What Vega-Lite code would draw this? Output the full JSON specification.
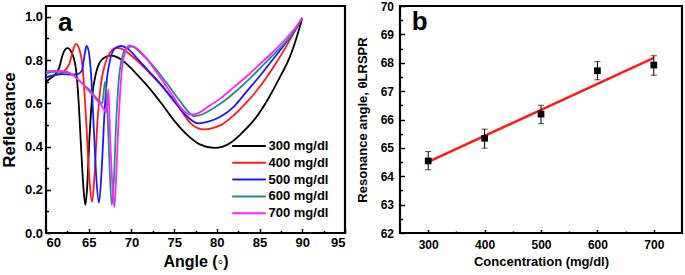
{
  "$schema": "https://vega.github.io/schema/vega-lite/v6.json",
  "background": "white",
  "padding": {"left": -1, "top": -2, "right": 0, "bottom": 0},
  "spacing": 8,
  "config": {
    "view": {"stroke": "black", "strokeWidth": 2.2},
    "font": "Liberation Sans",
    "axis": {
      "domain": false,
      "grid": false,
      "labelOverlap": false,
      "labelFont": "Liberation Sans",
      "labelFontWeight": "bold",
      "labelColor": "black",
      "titleFont": "Liberation Sans",
      "titleFontWeight": "bold",
      "titleColor": "black",
      "tickColor": "black",
      "tickWidth": 1.5,
      "labelPadding": 9
    }
  },
  "datasets": {
    "spectra": [
      {"conc": "300 mg/dl", "angle": 60, "R": 0.70},
      {"conc": "300 mg/dl", "angle": 60.5, "R": 0.715},
      {"conc": "300 mg/dl", "angle": 61, "R": 0.73},
      {"conc": "300 mg/dl", "angle": 61.5, "R": 0.76},
      {"conc": "300 mg/dl", "angle": 62, "R": 0.83},
      {"conc": "300 mg/dl", "angle": 62.5, "R": 0.855},
      {"conc": "300 mg/dl", "angle": 63, "R": 0.835},
      {"conc": "300 mg/dl", "angle": 63.5, "R": 0.76},
      {"conc": "300 mg/dl", "angle": 63.8, "R": 0.62},
      {"conc": "300 mg/dl", "angle": 64.1, "R": 0.40},
      {"conc": "300 mg/dl", "angle": 64.4, "R": 0.20},
      {"conc": "300 mg/dl", "angle": 64.6, "R": 0.13},
      {"conc": "300 mg/dl", "angle": 64.8, "R": 0.20},
      {"conc": "300 mg/dl", "angle": 65.1, "R": 0.45},
      {"conc": "300 mg/dl", "angle": 65.4, "R": 0.63},
      {"conc": "300 mg/dl", "angle": 65.8, "R": 0.73},
      {"conc": "300 mg/dl", "angle": 66.3, "R": 0.79},
      {"conc": "300 mg/dl", "angle": 67, "R": 0.815},
      {"conc": "300 mg/dl", "angle": 67.6, "R": 0.82},
      {"conc": "300 mg/dl", "angle": 68.5, "R": 0.81},
      {"conc": "300 mg/dl", "angle": 69.5, "R": 0.78},
      {"conc": "300 mg/dl", "angle": 70.5, "R": 0.74},
      {"conc": "300 mg/dl", "angle": 72, "R": 0.675},
      {"conc": "300 mg/dl", "angle": 73.5, "R": 0.60},
      {"conc": "300 mg/dl", "angle": 75, "R": 0.52},
      {"conc": "300 mg/dl", "angle": 76.5, "R": 0.455},
      {"conc": "300 mg/dl", "angle": 78, "R": 0.41},
      {"conc": "300 mg/dl", "angle": 79.7, "R": 0.394},
      {"conc": "300 mg/dl", "angle": 80.7, "R": 0.40},
      {"conc": "300 mg/dl", "angle": 81.7, "R": 0.42},
      {"conc": "300 mg/dl", "angle": 83, "R": 0.465},
      {"conc": "300 mg/dl", "angle": 84.5, "R": 0.53},
      {"conc": "300 mg/dl", "angle": 86, "R": 0.62},
      {"conc": "300 mg/dl", "angle": 87.5, "R": 0.73},
      {"conc": "300 mg/dl", "angle": 88.5, "R": 0.81},
      {"conc": "300 mg/dl", "angle": 89.3, "R": 0.90},
      {"conc": "300 mg/dl", "angle": 90, "R": 0.995},

      {"conc": "400 mg/dl", "angle": 60, "R": 0.72},
      {"conc": "400 mg/dl", "angle": 61, "R": 0.73},
      {"conc": "400 mg/dl", "angle": 62, "R": 0.745},
      {"conc": "400 mg/dl", "angle": 62.7, "R": 0.78},
      {"conc": "400 mg/dl", "angle": 63.2, "R": 0.85},
      {"conc": "400 mg/dl", "angle": 63.5, "R": 0.875},
      {"conc": "400 mg/dl", "angle": 63.9, "R": 0.85},
      {"conc": "400 mg/dl", "angle": 64.3, "R": 0.76},
      {"conc": "400 mg/dl", "angle": 64.7, "R": 0.52},
      {"conc": "400 mg/dl", "angle": 65.0, "R": 0.30},
      {"conc": "400 mg/dl", "angle": 65.4, "R": 0.145},
      {"conc": "400 mg/dl", "angle": 65.7, "R": 0.28},
      {"conc": "400 mg/dl", "angle": 66.0, "R": 0.50},
      {"conc": "400 mg/dl", "angle": 66.4, "R": 0.68},
      {"conc": "400 mg/dl", "angle": 66.9, "R": 0.78},
      {"conc": "400 mg/dl", "angle": 67.5, "R": 0.835},
      {"conc": "400 mg/dl", "angle": 68.3, "R": 0.857},
      {"conc": "400 mg/dl", "angle": 69.2, "R": 0.845},
      {"conc": "400 mg/dl", "angle": 70, "R": 0.82},
      {"conc": "400 mg/dl", "angle": 71, "R": 0.785},
      {"conc": "400 mg/dl", "angle": 72.5, "R": 0.725},
      {"conc": "400 mg/dl", "angle": 74, "R": 0.66},
      {"conc": "400 mg/dl", "angle": 75.5, "R": 0.585},
      {"conc": "400 mg/dl", "angle": 77, "R": 0.505},
      {"conc": "400 mg/dl", "angle": 78.5, "R": 0.479},
      {"conc": "400 mg/dl", "angle": 79.5, "R": 0.485},
      {"conc": "400 mg/dl", "angle": 80.5, "R": 0.50},
      {"conc": "400 mg/dl", "angle": 82, "R": 0.545},
      {"conc": "400 mg/dl", "angle": 83.5, "R": 0.605},
      {"conc": "400 mg/dl", "angle": 85, "R": 0.675},
      {"conc": "400 mg/dl", "angle": 86.5, "R": 0.76},
      {"conc": "400 mg/dl", "angle": 88, "R": 0.855},
      {"conc": "400 mg/dl", "angle": 89, "R": 0.925},
      {"conc": "400 mg/dl", "angle": 90, "R": 0.995},

      {"conc": "500 mg/dl", "angle": 60, "R": 0.72},
      {"conc": "500 mg/dl", "angle": 61, "R": 0.73},
      {"conc": "500 mg/dl", "angle": 62, "R": 0.735},
      {"conc": "500 mg/dl", "angle": 63, "R": 0.733},
      {"conc": "500 mg/dl", "angle": 63.7, "R": 0.735},
      {"conc": "500 mg/dl", "angle": 64.2, "R": 0.75},
      {"conc": "500 mg/dl", "angle": 64.5, "R": 0.82},
      {"conc": "500 mg/dl", "angle": 64.75, "R": 0.865},
      {"conc": "500 mg/dl", "angle": 65.0, "R": 0.84},
      {"conc": "500 mg/dl", "angle": 65.3, "R": 0.72},
      {"conc": "500 mg/dl", "angle": 65.6, "R": 0.48},
      {"conc": "500 mg/dl", "angle": 65.9, "R": 0.25},
      {"conc": "500 mg/dl", "angle": 66.2, "R": 0.14},
      {"conc": "500 mg/dl", "angle": 66.5, "R": 0.28},
      {"conc": "500 mg/dl", "angle": 66.8, "R": 0.52},
      {"conc": "500 mg/dl", "angle": 67.1, "R": 0.70},
      {"conc": "500 mg/dl", "angle": 67.5, "R": 0.80},
      {"conc": "500 mg/dl", "angle": 68.0, "R": 0.85},
      {"conc": "500 mg/dl", "angle": 68.7, "R": 0.865},
      {"conc": "500 mg/dl", "angle": 69.5, "R": 0.855},
      {"conc": "500 mg/dl", "angle": 70.5, "R": 0.815},
      {"conc": "500 mg/dl", "angle": 72, "R": 0.75},
      {"conc": "500 mg/dl", "angle": 73.5, "R": 0.685},
      {"conc": "500 mg/dl", "angle": 75, "R": 0.61},
      {"conc": "500 mg/dl", "angle": 76.5, "R": 0.54},
      {"conc": "500 mg/dl", "angle": 77.8, "R": 0.507},
      {"conc": "500 mg/dl", "angle": 79, "R": 0.515},
      {"conc": "500 mg/dl", "angle": 80.5, "R": 0.54},
      {"conc": "500 mg/dl", "angle": 82, "R": 0.585},
      {"conc": "500 mg/dl", "angle": 83.5, "R": 0.655},
      {"conc": "500 mg/dl", "angle": 85, "R": 0.725},
      {"conc": "500 mg/dl", "angle": 86.5, "R": 0.80},
      {"conc": "500 mg/dl", "angle": 88, "R": 0.875},
      {"conc": "500 mg/dl", "angle": 89, "R": 0.93},
      {"conc": "500 mg/dl", "angle": 90, "R": 0.995},

      {"conc": "600 mg/dl", "angle": 60, "R": 0.74},
      {"conc": "600 mg/dl", "angle": 61, "R": 0.745},
      {"conc": "600 mg/dl", "angle": 62, "R": 0.745},
      {"conc": "600 mg/dl", "angle": 63, "R": 0.735},
      {"conc": "600 mg/dl", "angle": 64, "R": 0.70},
      {"conc": "600 mg/dl", "angle": 65, "R": 0.665},
      {"conc": "600 mg/dl", "angle": 66, "R": 0.62},
      {"conc": "600 mg/dl", "angle": 66.6, "R": 0.60},
      {"conc": "600 mg/dl", "angle": 66.9, "R": 0.70},
      {"conc": "600 mg/dl", "angle": 67.2, "R": 0.55},
      {"conc": "600 mg/dl", "angle": 67.5, "R": 0.25},
      {"conc": "600 mg/dl", "angle": 67.7, "R": 0.13},
      {"conc": "600 mg/dl", "angle": 67.95, "R": 0.25},
      {"conc": "600 mg/dl", "angle": 68.2, "R": 0.50},
      {"conc": "600 mg/dl", "angle": 68.5, "R": 0.70},
      {"conc": "600 mg/dl", "angle": 68.9, "R": 0.81},
      {"conc": "600 mg/dl", "angle": 69.5, "R": 0.86},
      {"conc": "600 mg/dl", "angle": 70.1, "R": 0.862},
      {"conc": "600 mg/dl", "angle": 71, "R": 0.835},
      {"conc": "600 mg/dl", "angle": 72.5, "R": 0.775},
      {"conc": "600 mg/dl", "angle": 74, "R": 0.70},
      {"conc": "600 mg/dl", "angle": 75.5, "R": 0.62},
      {"conc": "600 mg/dl", "angle": 76.8, "R": 0.555},
      {"conc": "600 mg/dl", "angle": 77.3, "R": 0.54},
      {"conc": "600 mg/dl", "angle": 78, "R": 0.545},
      {"conc": "600 mg/dl", "angle": 79.5, "R": 0.575},
      {"conc": "600 mg/dl", "angle": 81, "R": 0.615},
      {"conc": "600 mg/dl", "angle": 82.5, "R": 0.665},
      {"conc": "600 mg/dl", "angle": 84, "R": 0.72},
      {"conc": "600 mg/dl", "angle": 85.5, "R": 0.78},
      {"conc": "600 mg/dl", "angle": 87, "R": 0.84},
      {"conc": "600 mg/dl", "angle": 88.5, "R": 0.905},
      {"conc": "600 mg/dl", "angle": 90, "R": 0.995},

      {"conc": "700 mg/dl", "angle": 60, "R": 0.745},
      {"conc": "700 mg/dl", "angle": 60.5, "R": 0.75},
      {"conc": "700 mg/dl", "angle": 61.5, "R": 0.75},
      {"conc": "700 mg/dl", "angle": 62.5, "R": 0.745},
      {"conc": "700 mg/dl", "angle": 63.5, "R": 0.72},
      {"conc": "700 mg/dl", "angle": 64.5, "R": 0.68},
      {"conc": "700 mg/dl", "angle": 65.5, "R": 0.635},
      {"conc": "700 mg/dl", "angle": 66.5, "R": 0.59},
      {"conc": "700 mg/dl", "angle": 67.05, "R": 0.56},
      {"conc": "700 mg/dl", "angle": 67.2, "R": 0.60},
      {"conc": "700 mg/dl", "angle": 67.3, "R": 0.665},
      {"conc": "700 mg/dl", "angle": 67.5, "R": 0.45},
      {"conc": "700 mg/dl", "angle": 67.8, "R": 0.20},
      {"conc": "700 mg/dl", "angle": 68.0, "R": 0.12},
      {"conc": "700 mg/dl", "angle": 68.2, "R": 0.25},
      {"conc": "700 mg/dl", "angle": 68.5, "R": 0.52},
      {"conc": "700 mg/dl", "angle": 68.8, "R": 0.72},
      {"conc": "700 mg/dl", "angle": 69.2, "R": 0.83},
      {"conc": "700 mg/dl", "angle": 69.8, "R": 0.868},
      {"conc": "700 mg/dl", "angle": 70.4, "R": 0.86},
      {"conc": "700 mg/dl", "angle": 71.5, "R": 0.82},
      {"conc": "700 mg/dl", "angle": 73, "R": 0.74},
      {"conc": "700 mg/dl", "angle": 74.5, "R": 0.655},
      {"conc": "700 mg/dl", "angle": 76, "R": 0.57},
      {"conc": "700 mg/dl", "angle": 76.8, "R": 0.548},
      {"conc": "700 mg/dl", "angle": 77.5, "R": 0.55},
      {"conc": "700 mg/dl", "angle": 79, "R": 0.585},
      {"conc": "700 mg/dl", "angle": 80.5, "R": 0.625},
      {"conc": "700 mg/dl", "angle": 82, "R": 0.675},
      {"conc": "700 mg/dl", "angle": 83.5, "R": 0.725},
      {"conc": "700 mg/dl", "angle": 85, "R": 0.78},
      {"conc": "700 mg/dl", "angle": 86.5, "R": 0.835},
      {"conc": "700 mg/dl", "angle": 88, "R": 0.895},
      {"conc": "700 mg/dl", "angle": 89, "R": 0.94},
      {"conc": "700 mg/dl", "angle": 90, "R": 0.995}
    ],
    "points": [
      {"conc": 300, "angle": 64.54, "lo": 64.23, "hi": 64.87},
      {"conc": 400, "angle": 65.34, "lo": 64.99, "hi": 65.66},
      {"conc": 500, "angle": 66.19, "lo": 65.85, "hi": 66.50},
      {"conc": 600, "angle": 67.72, "lo": 67.40, "hi": 68.04},
      {"conc": 700, "angle": 67.92, "lo": 67.56, "hi": 68.25}
    ],
    "fit": [
      {"conc": 300, "angle": 64.51},
      {"conc": 700, "angle": 68.17}
    ]
  },
  "hconcat": [
    {
      "width": 299,
      "height": 227,
      "layer": [
        {
          "data": {"name": "spectra"},
          "mark": {"type": "line", "interpolate": "monotone", "strokeWidth": 1.8, "clip": true},
          "encoding": {
            "x": {
              "field": "angle", "type": "quantitative",
              "scale": {"domain": [60, 95], "nice": false, "zero": false},
              "axis": {
                "title": "Angle (◦)", "titleFontSize": 16, "titlePadding": 2,
                "labelFontSize": 13, "labelOverlap": false, "tickCount": 50,
                "values": [60, 62.5, 65, 67.5, 70, 72.5, 75, 77.5, 80, 82.5, 85, 87.5, 90, 92.5, 95],
                "labelExpr": "datum.value % 5 == 0 ? format(datum.value, 'd') : ''",
                "tickSize": {"condition": {"test": "datum.value % 5 != 0", "value": -2.5}, "value": -4.5},
                "labelPadding": 8
              }
            },
            "y": {
              "field": "R", "type": "quantitative",
              "scale": {"domain": [0, 1.05], "nice": false, "zero": false},
              "axis": {
                "title": "Reflectance", "titleFontSize": 17, "titlePadding": 6,
                "labelFontSize": 13, "labelOverlap": false, "tickCount": 50,
                "values": [0, 0.1, 0.2, 0.3, 0.4, 0.5, 0.6, 0.7, 0.8, 0.9, 1.0],
                "labelExpr": "abs(datum.value*5 - round(datum.value*5)) < 0.001 ? format(datum.value, '.1f') : ''",
                "tickSize": {"condition": {"test": "abs(datum.value*5 - round(datum.value*5)) > 0.001", "value": -2.5}, "value": -4.5},
                "labelPadding": 8
              }
            },
            "color": {
              "field": "conc", "type": "nominal",
              "scale": {
                "domain": ["300 mg/dl", "400 mg/dl", "500 mg/dl", "600 mg/dl", "700 mg/dl"],
                "range": ["#000000", "#ff1a1a", "#1a1aff", "#2a8a8a", "#ff22ff"]
              },
              "legend": {
                "orient": "none", "legendX": 196, "legendY": 133,
                "title": null,
                "symbolType": "M-2.8,0H2.8",
                "symbolSize": 144,
                "symbolStrokeWidth": 2,
                "labelFont": "Liberation Sans", "labelFontWeight": "bold", "labelFontSize": 13,
                "labelColor": "black", "labelOffset": 12.5,
                "rowPadding": 2.8, "padding": 0
              }
            }
          }
        },
        {
          "data": {"values": [{}]},
          "mark": {"type": "text", "text": "a", "fontSize": 26, "fontWeight": "bold", "font": "Liberation Sans", "align": "left", "baseline": "alphabetic", "color": "black"},
          "encoding": {
            "x": {"datum": 61.4, "type": "quantitative"},
            "y": {"datum": 0.935, "type": "quantitative"}
          }
        }
      ]
    },
    {
      "width": 282,
      "height": 227,
      "layer": [
        {
          "data": {"name": "fit"},
          "mark": {"type": "line", "color": "#ff1a1a", "strokeWidth": 2.5},
          "encoding": {
            "x": {
              "field": "conc", "type": "quantitative",
              "scale": {"domain": [250, 750], "nice": false, "zero": false},
              "axis": {
                "title": "Concentration (mg/dl)", "titleFontSize": 13, "titlePadding": 3,
                "labelFontSize": 12, "labelOverlap": false, "tickCount": 50,
                "values": [300, 350, 400, 450, 500, 550, 600, 650, 700],
                "labelExpr": "datum.value % 100 == 0 ? format(datum.value, 'd') : ''",
                "tickSize": {"condition": {"test": "datum.value % 100 != 0", "value": -2}, "value": -3.5},
                "labelPadding": 10
              }
            },
            "y": {
              "field": "angle", "type": "quantitative",
              "scale": {"domain": [62, 70], "nice": false, "zero": false},
              "axis": {
                "title": "Resonance angle, θLRSPR", "titleFontSize": 13, "titlePadding": 11,
                "labelFontSize": 12, "labelOverlap": false, "tickCount": 50,
                "values": [62, 62.5, 63, 63.5, 64, 64.5, 65, 65.5, 66, 66.5, 67, 67.5, 68, 68.5, 69, 69.5, 70],
                "labelExpr": "round(datum.value) == datum.value ? format(datum.value, 'd') : ''",
                "tickSize": {"condition": {"test": "round(datum.value) != datum.value", "value": -2.5}, "value": -4.5},
                "labelPadding": 11
              }
            }
          }
        },
        {
          "data": {"name": "points"},
          "mark": {"type": "errorbar", "ticks": {"size": 6, "color": "black"}, "color": "black"},
          "encoding": {
            "x": {"field": "conc", "type": "quantitative", "title": "Concentration (mg/dl)"},
            "y": {"field": "lo", "type": "quantitative", "title": "Resonance angle, θLRSPR"},
            "y2": {"field": "hi"}
          }
        },
        {
          "data": {"name": "points"},
          "mark": {"type": "square", "size": 45, "color": "black", "opacity": 1},
          "encoding": {
            "x": {"field": "conc", "type": "quantitative", "title": "Concentration (mg/dl)"},
            "y": {"field": "angle", "type": "quantitative", "title": "Resonance angle, θLRSPR"}
          }
        },
        {
          "data": {"values": [{}]},
          "mark": {"type": "text", "text": "b", "fontSize": 26, "fontWeight": "bold", "font": "Liberation Sans", "align": "left", "baseline": "alphabetic", "color": "black"},
          "encoding": {
            "x": {"datum": 271, "type": "quantitative"},
            "y": {"datum": 69.15, "type": "quantitative"}
          }
        }
      ]
    }
  ]
}
